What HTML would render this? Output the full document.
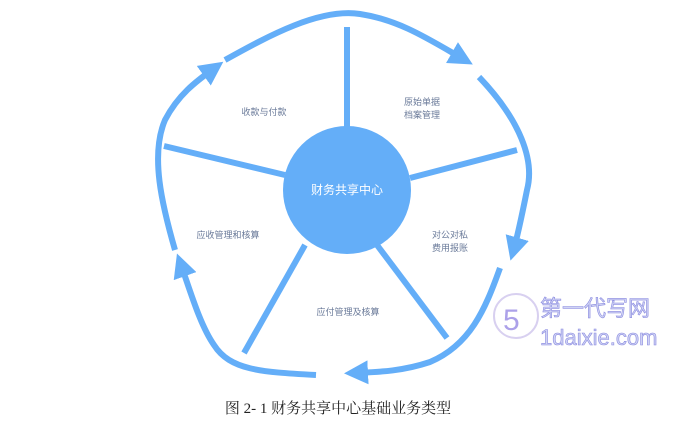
<!DOCTYPE html>
<html><head><meta charset="utf-8"><style>
body{margin:0;background:#fff;width:689px;height:419px;overflow:hidden;font-family:"Liberation Sans","Noto Sans CJK SC",sans-serif}
</style></head><body>
<svg width="689" height="419" viewBox="0 0 689 419" xmlns="http://www.w3.org/2000/svg">
<defs><marker id="a" markerWidth="4" markerHeight="4" refX="2.5" refY="2" orient="auto"><path d="M0,0 L4,2 L0,4 z" fill="#64aef8"/></marker></defs>
<g stroke="#64aef8" stroke-width="6" fill="none">
<line x1="347" y1="27" x2="347" y2="130"/>
<line x1="164" y1="146" x2="285" y2="175"/>
<line x1="517" y1="150" x2="410" y2="178"/>
<line x1="305" y1="245" x2="244" y2="353"/>
<line x1="377" y1="245" x2="447" y2="338"/>
<path d="M316,375 C260,372 230,370 214,345 C200,325 190,290 180,262" marker-end="url(#a)"/>
<path d="M175,250 C162,205 150,155 165,120 C178,95 195,82 216,67" marker-end="url(#a)"/>
<path d="M225,60 C270,35 320,8 360,14 C400,20 430,40 465,60" marker-end="url(#a)"/>
<path d="M479,77 C520,120 535,160 527,190 C522,215 518,235 513,252" marker-end="url(#a)"/>
<path d="M500,268 C485,310 470,345 430,362 C400,372 375,372 353,373" marker-end="url(#a)"/>
</g>
<circle cx="347" cy="190" r="64" fill="#64aef8"/>
<text x="347" y="194" font-size="12" fill="#fff" text-anchor="middle">财务共享中心</text>
<g font-size="9" fill="#6a7a99" text-anchor="middle">
<text x="264" y="115">收款与付款</text>
<text x="422" y="105">原始单据</text><text x="422" y="118">档案管理</text>
<text x="228" y="238">应收管理和核算</text>
<text x="450" y="238">对公对私</text><text x="450" y="251">费用报账</text>
<text x="348" y="315">应付管理及核算</text>
</g>
<circle cx="516" cy="316" r="22" fill="none" stroke="#d8d0f0" stroke-width="2"/>
<text x="503" y="330" font-size="30" fill="#8a7ae0" opacity="0.7">5</text>
<text x="540" y="316" font-size="22" fill="#d0d4f4" stroke="#8a8ae0" stroke-width="0.6">第一代写网</text>
<text x="540" y="345" font-size="22" fill="#d0d4f4" stroke="#8a8ae0" stroke-width="0.6">1daixie.com</text>
<text x="338" y="413" font-size="15" fill="#222" text-anchor="middle" font-family="Liberation Serif,'Noto Serif CJK SC',serif">图 2- 1 财务共享中心基础业务类型</text>
</svg>
</body></html>
